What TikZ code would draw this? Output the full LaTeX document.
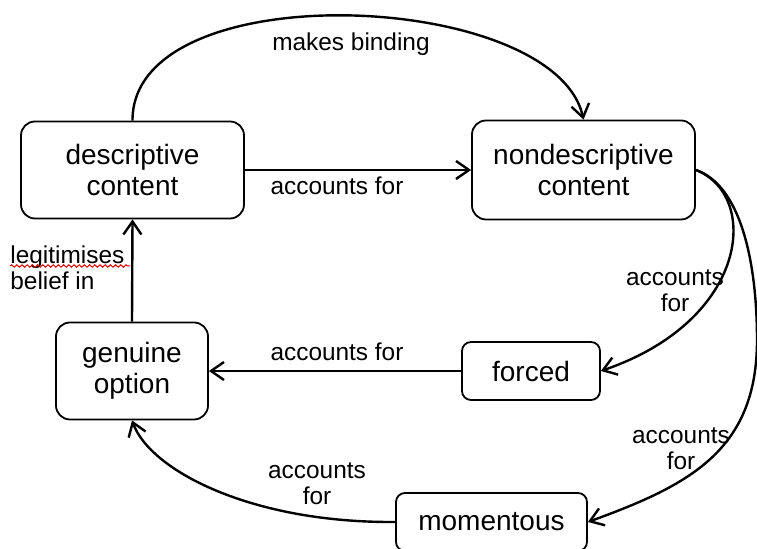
\documentclass[tikz,border=0pt]{standalone}
\usepackage{fontspec}
\setmainfont{Liberation Sans}
\usetikzlibrary{arrows.meta,decorations.pathmorphing}
\begin{document}
\begin{tikzpicture}[x=0.5pt,y=-0.5pt,
  box/.style={draw, line width=0.9pt, rounded corners=7pt, align=center,
    font=\fontsize{14}{15.5}\selectfont, inner sep=0pt},
  smallbox/.style={box, rounded corners=4.5pt},
  conn/.style={line width=1.2pt, -{Straight Barb[length=6.5pt,width=9pt,line width=1.2pt]}},
  lbl/.style={font=\fontsize{12.2}{13}\selectfont, align=center, inner sep=0pt}]
\useasboundingbox (0,0) rectangle (757,549);
\node[box, minimum width=111.5pt, minimum height=48.5pt] (desc) at (132.5,170) {descriptive\\content};
\node[box, minimum width=111.5pt, minimum height=49.5pt] (nd) at (583.5,170) {nondescriptive\\content};
\node[box, minimum width=76pt, minimum height=48.5pt] (gen) at (132,371) {genuine\\option};
\node[smallbox, minimum width=69pt, minimum height=29pt] (forced) at (531,371) {forced};
\node[smallbox, minimum width=95.5pt, minimum height=29pt] (mom) at (491.5,522) {momentous};
\coordinate (bulge) at (757,340);
% connectors
\draw[conn] (desc.north) .. controls (132,-28) and (555,-10) .. (nd.north);
\draw[conn] (desc.east) -- (nd.west);
\draw[conn] (nd.east) .. controls (760,195) and (750,320) .. (forced.east);
\draw[conn] (nd.east) .. controls (740,185) and (757,260) .. (bulge) .. controls (757,450) and (690,485) .. (mom.east);
\draw[conn] (forced.west) -- (gen.east);
\draw[conn] (mom.west) .. controls (250,523) and (150,470) .. (gen.south);
\draw[conn] (gen.north) -- (desc.south);
% labels
\node[lbl] (lmb) at (351,44) {makes binding};
\node[lbl] (laf1) at (337,186) {accounts for};
\node[lbl] (laf2) at (675,291) {accounts\\for};
\node[lbl] (laf3) at (337,352) {accounts for};
\node[lbl] (laf4) at (681,449) {accounts\\for};
\node[lbl] (laf5) at (317,484) {accounts\\for};
\node[lbl, align=left, anchor=west] (lleg) at (10,268) {legitimises\\belief in};
\draw[red!85!black, line width=0.5pt, decorate, decoration={snake, amplitude=0.6pt, segment length=2.6pt}] (10,266) -- (130,266);
\end{tikzpicture}
\end{document}
